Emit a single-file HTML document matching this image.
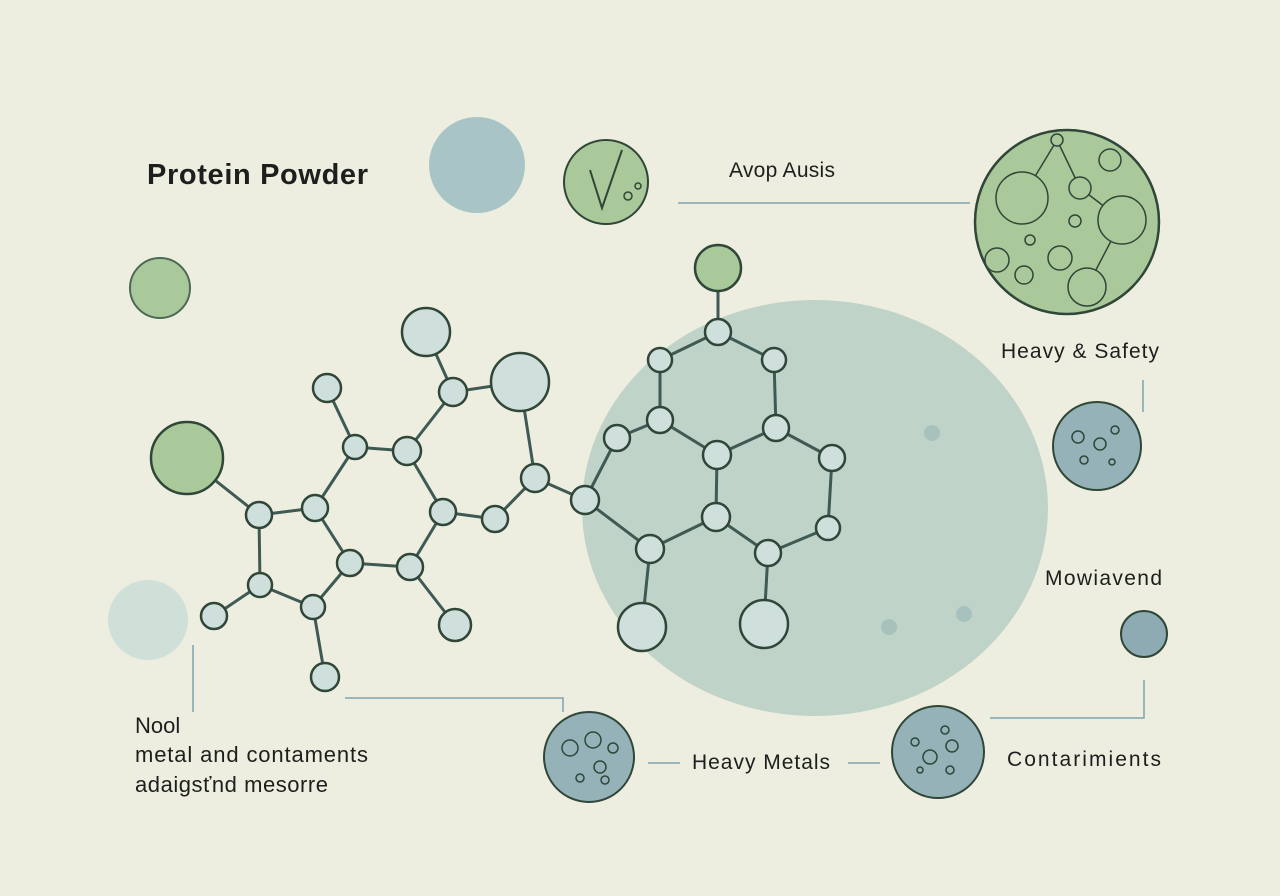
<!DOCTYPE html>
<html><head><meta charset="utf-8"><style>
html,body{margin:0;padding:0;background:#edeedf;}
svg{display:block;font-family:"Liberation Sans",sans-serif;}
</style></head><body>
<svg width="1280" height="896" viewBox="0 0 1280 896">
<rect width="1280" height="896" fill="#edeedf"/>
<ellipse cx="815" cy="508" rx="233" ry="208" fill="#bfd3c8"/>
<circle cx="932" cy="433" r="8" fill="#a7c2bd"/>
<circle cx="889" cy="627" r="8" fill="#a7c2bd"/>
<circle cx="964" cy="614" r="8" fill="#a7c2bd"/>
<circle cx="477" cy="165" r="48" fill="#a9c4c6"/>
<circle cx="160" cy="288" r="30" fill="#a9c99a" stroke="#4d6a55" stroke-width="2"/>
<circle cx="148" cy="620" r="40" fill="#cfe0d8"/>
<g stroke="#7fa3ad" stroke-width="1.5" fill="none">
<line x1="678" y1="203" x2="970" y2="203"/>
<line x1="1143" y1="380" x2="1143" y2="412"/>
<line x1="193" y1="645" x2="193" y2="712"/>
<polyline points="345,698 563,698 563,712"/>
<line x1="648" y1="763" x2="680" y2="763"/>
<line x1="848" y1="763" x2="880" y2="763"/>
<polyline points="990,718 1144,718 1144,680"/>
</g>
<circle cx="606" cy="182" r="42" fill="#a9c99a" stroke="#2f4638" stroke-width="2"/>
<path d="M590 170 L602 208 L622 150" stroke="#2f4638" stroke-width="2" fill="none"/>
<circle cx="628" cy="196" r="4" fill="none" stroke="#2f4638" stroke-width="1.5"/>
<circle cx="638" cy="186" r="3" fill="none" stroke="#2f4638" stroke-width="1.5"/>
<circle cx="1067" cy="222" r="92" fill="#a9c99a" stroke="#2f4638" stroke-width="2.5"/>
<g fill="#a9c99a" stroke="#2f4638" stroke-width="1.5">
<line x1="1022" y1="198" x2="1057" y2="140"/><line x1="1057" y1="140" x2="1080" y2="188"/><line x1="1080" y1="188" x2="1122" y2="220"/><line x1="1122" y1="220" x2="1087" y2="287"/>
<circle cx="1022" cy="198" r="26"/><circle cx="1110" cy="160" r="11"/><circle cx="1080" cy="188" r="11"/><circle cx="1122" cy="220" r="24"/><circle cx="1060" cy="258" r="12"/><circle cx="1087" cy="287" r="19"/><circle cx="1024" cy="275" r="9"/><circle cx="1075" cy="221" r="6"/><circle cx="1030" cy="240" r="5"/><circle cx="1057" cy="140" r="6"/><circle cx="997" cy="260" r="12"/>
</g>
<circle cx="1097" cy="446" r="44" fill="#94b2b8" stroke="#2f4638" stroke-width="2"/>
<g fill="none" stroke="#2f4638" stroke-width="1.5"><circle cx="1078" cy="437" r="6"/><circle cx="1100" cy="444" r="6"/><circle cx="1115" cy="430" r="4"/><circle cx="1084" cy="460" r="4"/><circle cx="1112" cy="462" r="3"/></g>
<circle cx="1144" cy="634" r="23" fill="#8eaab2" stroke="#2f4638" stroke-width="2"/>
<circle cx="589" cy="757" r="45" fill="#94b2b8" stroke="#2f4638" stroke-width="2"/>
<g fill="none" stroke="#2f4638" stroke-width="1.5"><circle cx="570" cy="748" r="8"/><circle cx="593" cy="740" r="8"/><circle cx="613" cy="748" r="5"/><circle cx="600" cy="767" r="6"/><circle cx="580" cy="778" r="4"/><circle cx="605" cy="780" r="4"/></g>
<circle cx="938" cy="752" r="46" fill="#94b2b8" stroke="#2f4638" stroke-width="2"/>
<g fill="none" stroke="#2f4638" stroke-width="1.5"><circle cx="930" cy="757" r="7"/><circle cx="952" cy="746" r="6"/><circle cx="915" cy="742" r="4"/><circle cx="945" cy="730" r="4"/><circle cx="950" cy="770" r="4"/><circle cx="920" cy="770" r="3"/></g>
<g stroke="#3f5a55" stroke-width="3" fill="none">
<path d="M187 458L259 515M259 515L315 508M259 515L260 585M260 585L214 616M260 585L313 607M313 607L325 677M313 607L350 563M315 508L350 563M315 508L355 447M355 447L327 388M355 447L407 451M407 451L453 392M407 451L443 512M453 392L426 332M453 392L520 382M520 382L535 478M443 512L495 519M495 519L535 478M350 563L410 567M410 567L443 512M410 567L455 625M535 478L585 500M585 500L617 438M585 500L650 549M617 438L660 420M660 420L660 360M660 360L718 332M718 332L718 268M718 332L774 360M774 360L776 428M776 428L717 455M660 420L717 455M717 455L716 517M776 428L832 458M832 458L828 528M828 528L768 553M716 517L768 553M716 517L650 549M650 549L642 627M768 553L764 624"/>
</g>
<circle cx="187" cy="458" r="36" fill="#a9c99a" stroke="#2f4638" stroke-width="2.5"/>
<circle cx="718" cy="268" r="23" fill="#a9c99a" stroke="#2f4638" stroke-width="2.5"/>
<g fill="#cfe0dc" stroke="#2f4638" stroke-width="2.5">
<circle cx="259" cy="515" r="13"/><circle cx="315" cy="508" r="13"/><circle cx="260" cy="585" r="12"/><circle cx="313" cy="607" r="12"/><circle cx="214" cy="616" r="13"/><circle cx="325" cy="677" r="14"/><circle cx="350" cy="563" r="13"/><circle cx="410" cy="567" r="13"/><circle cx="455" cy="625" r="16"/><circle cx="355" cy="447" r="12"/><circle cx="327" cy="388" r="14"/><circle cx="407" cy="451" r="14"/><circle cx="443" cy="512" r="13"/><circle cx="495" cy="519" r="13"/><circle cx="535" cy="478" r="14"/><circle cx="453" cy="392" r="14"/><circle cx="426" cy="332" r="24"/><circle cx="520" cy="382" r="29"/><circle cx="585" cy="500" r="14"/><circle cx="617" cy="438" r="13"/><circle cx="660" cy="420" r="13"/><circle cx="660" cy="360" r="12"/><circle cx="718" cy="332" r="13"/><circle cx="774" cy="360" r="12"/><circle cx="776" cy="428" r="13"/><circle cx="717" cy="455" r="14"/><circle cx="832" cy="458" r="13"/><circle cx="828" cy="528" r="12"/><circle cx="716" cy="517" r="14"/><circle cx="650" cy="549" r="14"/><circle cx="768" cy="553" r="13"/><circle cx="642" cy="627" r="24"/><circle cx="764" cy="624" r="24"/>
</g>
<g fill="#1e1e1e" font-size="21">
<text x="147" y="184" font-size="29" font-weight="bold" textLength="221">Protein Powder</text>
<text x="729" y="177" textLength="106">Avop Ausis</text>
<text x="1001" y="358" textLength="158">Heavy &amp; Safety</text>
<text x="1045" y="585" textLength="117">Mowiavend</text>
<text x="135" y="733" font-size="22">Nool</text>
<text x="135" y="762" font-size="22" textLength="233">metal and contaments</text>
<text x="135" y="792" font-size="22" textLength="193">adaigsťnd mesorre</text>
<text x="692" y="769" textLength="138">Heavy Metals</text>
<text x="1007" y="766" textLength="154">Contarimients</text>
</g>
</svg>
</body></html>
